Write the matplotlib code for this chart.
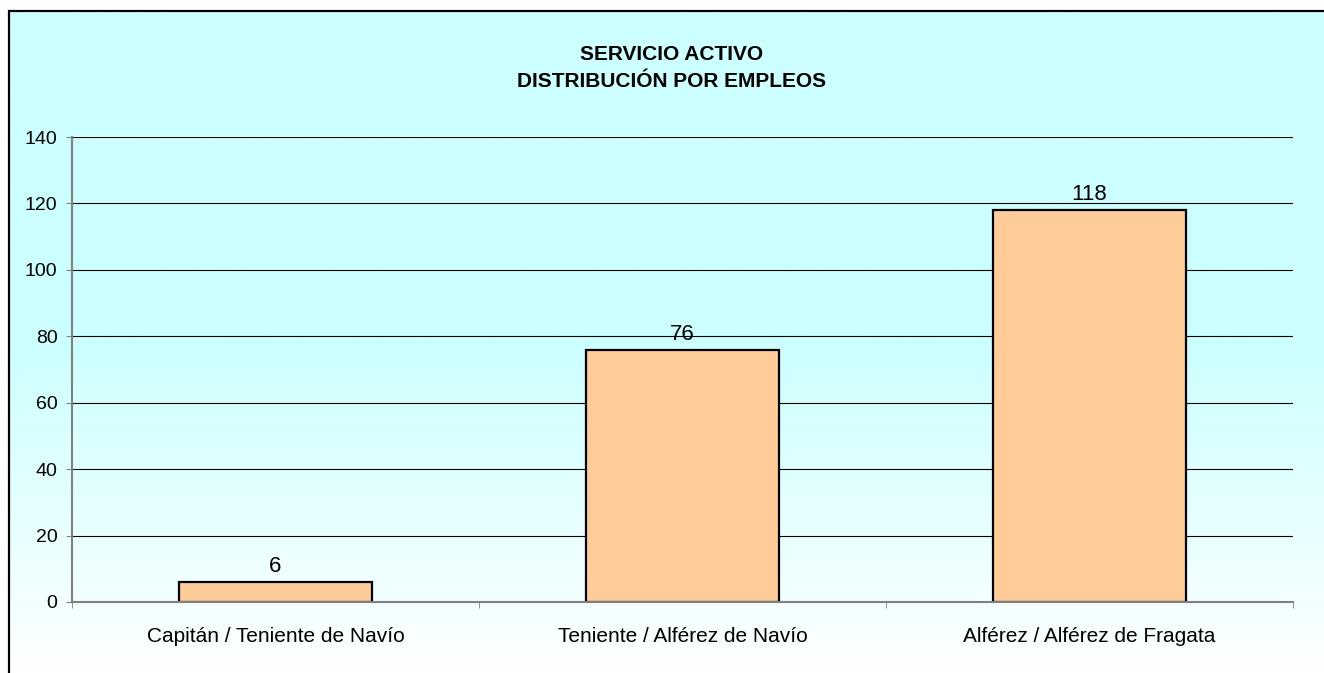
import numpy as np
import matplotlib
matplotlib.use("Agg")
import matplotlib.pyplot as plt
from matplotlib.colors import LinearSegmentedColormap

plt.rcParams['font.family'] = ['Liberation Sans', 'DejaVu Sans']

categories = ["Capitán / Teniente de Navío", "Teniente / Alférez de Navío", "Alférez / Alférez de Fragata"]
values = [6, 76, 118]
y_ticks = [0, 20, 40, 60, 80, 100, 120, 140]
title = "SERVICIO ACTIVO\nDISTRIBUCIÓN POR EMPLEOS"

W, H = 1324, 673
fig = plt.figure(figsize=(W / 100, H / 100), dpi=100)
fig.patch.set_facecolor("white")

# background gradient inside the chart frame
bg = fig.add_axes([0, 0, 1, 1])
bg.axis("off")
cmap = LinearSegmentedColormap.from_list("bg", ["#CCFFFF", "#CCFFFF", "#FFFFFF"], N=256)
grad = np.linspace(0, 1, 256).reshape(-1, 1)
bg.imshow(grad, cmap=cmap, aspect="auto", extent=[9, W + 5, H + 5, 11], zorder=0)
bg.plot([9, 9, W + 5], [H + 5, 11, 11], color="black", lw=1.6, solid_joinstyle="miter", zorder=1)
bg.set_xlim(0, W)
bg.set_ylim(H, 0)

ax = fig.add_axes([72 / W, 1 - 602 / H, (1293 - 72) / W, (602 - 137) / H])
ax.patch.set_alpha(0)

x = np.arange(len(categories))
bars = ax.bar(x, values, width=0.475, color="#FFCC99", edgecolor="black", linewidth=1.6, zorder=3)
for b, v in zip(bars, values):
    ax.text(b.get_x() + b.get_width() / 2, v + 1.5, str(v), ha="center", va="bottom", fontsize=16, zorder=4)

ax.set_xlim(-0.5, len(categories) - 0.5)
ax.set_ylim(0, 140)
ax.set_yticks(y_ticks)
ax.yaxis.grid(True, color="black", lw=0.8, zorder=1)
ax.set_axisbelow(True)

ax.set_xticks(x)
ax.set_xticklabels(categories, fontsize=15)
ax.set_xticks(np.arange(-0.5, len(categories)), minor=True)
ax.tick_params(axis="x", which="major", length=0, pad=18)
ax.tick_params(axis="x", which="minor", length=4.5, color="#808080", direction="out")
ax.tick_params(axis="y", length=4.5, color="#808080", labelsize=14, pad=6)

for s in ["top", "right"]:
    ax.spines[s].set_visible(False)
for s in ["left", "bottom"]:
    ax.spines[s].set_color("#808080")
    ax.spines[s].set_linewidth(1.5)
    ax.spines[s].set_zorder(5)

fig.text(672 / W, 1 - 68 / H, title, ha="center", va="center", fontsize=15,
         fontweight="bold", linespacing=1.55)

fig.savefig("out.png", dpi=100)
